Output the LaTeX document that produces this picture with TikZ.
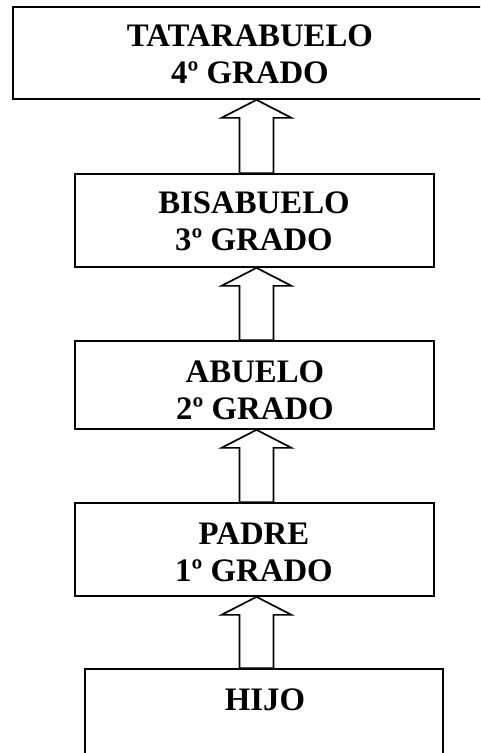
\documentclass[tikz,border=0pt]{standalone}
\usepackage{fontspec}
\setmainfont{Liberation Serif}
\usetikzlibrary{calc}
\newcommand\blockarr[2]{%
  \draw[blockarrow] ($(axis |- #2.north)+(-17,0)$) -- ($(axis |- #1.south)+(-17,18)$)
    -- ($(axis |- #1.south)+(-35,18)$) -- (axis |- #1.south)
    -- ($(axis |- #1.south)+(35,18)$) -- ($(axis |- #1.south)+(17,18)$)
    -- ($(axis |- #2.north)+(17,0)$) -- cycle;}
\begin{document}
\begin{tikzpicture}[x=1pt,y=-1pt,
  box/.style={draw, line width=1.7pt, inner sep=0pt, minimum width=359pt},
  lbl/.style={font=\fontsize{32.8}{37}\selectfont\bfseries, align=center, inner sep=0pt},
  blockarrow/.style={draw, line width=1.7pt, fill=white, line join=miter}]
\useasboundingbox (0,0) rectangle (480,753);
\clip (0,0) rectangle (480,753);
\fill[white] (0,0) rectangle (480,753);
\coordinate (axis) at (256.5,0);
\node[box, minimum width=474pt, minimum height=92pt] (b4) at (250,53) {};
\node[box, minimum height=93pt] (b3) at (254.5,220.5) {};
\node[box, minimum height=88pt] (b2) at (254.5,385) {};
\node[box, minimum height=93pt] (b1) at (254.5,549.5) {};
\node[box, minimum width=358pt, minimum height=172pt] (b0) at (264,755) {};
\node[lbl] (t4) at (250,54) {TATARABUELO\\4º GRADO};
\node[lbl] (t3) at (254,221.5) {BISABUELO\\3º GRADO};
\node[lbl] (t2) at (255,390) {ABUELO\\2º GRADO};
\node[lbl] (t1) at (254,552.5) {PADRE\\1º GRADO};
\node[lbl] (t0) at (265,699.5) {HIJO};
\blockarr{b4}{b3}
\blockarr{b3}{b2}
\blockarr{b2}{b1}
\blockarr{b1}{b0}
\end{tikzpicture}
\end{document}
